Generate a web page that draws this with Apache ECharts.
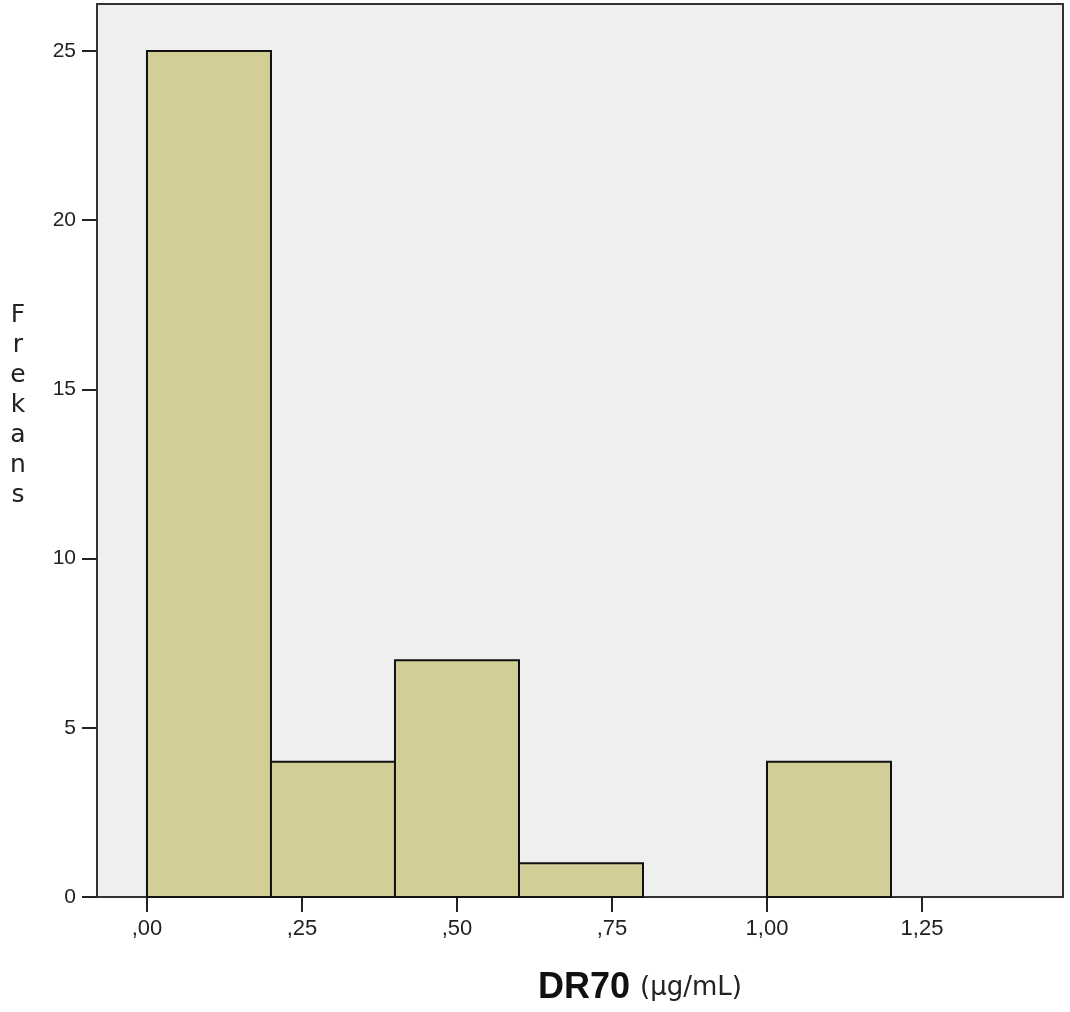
<!DOCTYPE html>
<html>
<head>
<meta charset="utf-8">
<script src="https://cdn.jsdelivr.net/npm/echarts@6/dist/echarts.min.js"></script>
<style>html,body{margin:0;padding:0;background:#fff;}#c{width:1070px;height:1012px;}</style>
</head>
<body>
<div id="c"></div>
<script>
const binStart = [0.0, 0.2, 0.4, 0.6, 1.0];
const binEnd   = [0.2, 0.4, 0.6, 0.8, 1.2];
const counts   = [25, 4, 7, 1, 4];
const xTickValues = [0, 0.25, 0.5, 0.75, 1.0, 1.25];
const xTickLabels = [',00', ',25', ',50', ',75', '1,00', '1,25'];
const yTickValues = [0, 5, 10, 15, 20, 25];

const data = binStart.map((s, i) => [s, binEnd[i], counts[i]]);

const tickFont = 'Liberation Sans';

const chart = echarts.init(document.getElementById('c'));
chart.setOption({
  animation: false,
  grid: {
    left: 97, right: 7, top: 4, bottom: 115,
    outerBoundsMode: 'none', containLabel: false,
    show: true, backgroundColor: '#efefef', borderColor: '#333', borderWidth: 2
  },
  xAxis: {
    type: 'value', min: -0.0806, max: 1.4774,
    splitLine: { show: false },
    axisLine: { show: true, onZero: false, lineStyle: { color: '#333', width: 2 } },
    axisTick: { show: true, customValues: xTickValues, length: 15, lineStyle: { color: '#222', width: 2 } },
    axisLabel: {
      customValues: xTickValues, margin: 21,
      formatter: v => { const i = xTickValues.findIndex(t => Math.abs(t - v) < 1e-6); return i >= 0 ? xTickLabels[i] : ''; },
      color: '#222', fontFamily: tickFont, fontSize: 22
    },
    name: '{s|}{b|DR70}{g|}{n|(µg/mL)}', nameLocation: 'middle', nameGap: 73,
    nameTextStyle: {
      rich: {
        s: { width: 120 },
        g: { width: 10 },
        b: { fontFamily: 'Liberation Sans', fontWeight: 'bold', fontSize: 36, color: '#111' },
        n: { fontFamily: 'DejaVu Sans', fontSize: 26, color: '#222' }
      }
    }
  },
  yAxis: {
    type: 'value', min: 0, max: 26.39,
    splitLine: { show: false },
    axisLine: { show: true, onZero: false, lineStyle: { color: '#333', width: 2 } },
    axisTick: { show: true, customValues: yTickValues, length: 15, lineStyle: { color: '#222', width: 2 } },
    axisLabel: { customValues: yTickValues, margin: 21, color: '#222', fontFamily: tickFont, fontSize: 21 },
    name: 'F\nr\ne\nk\na\nn\ns\n \n \n ', nameLocation: 'middle', nameRotate: 0, nameGap: 79,
    nameTextStyle: { align: 'center', verticalAlign: 'middle', fontFamily: 'DejaVu Sans', fontSize: 25, lineHeight: 30, color: '#222' }
  },
  series: [{
    type: 'custom',
    data: data,
    encode: { x: [0, 1], y: 2 },
    renderItem: function (params, api) {
      const p0 = api.coord([api.value(0), api.value(2)]);
      const p1 = api.coord([api.value(1), 0]);
      return {
        type: 'rect',
        shape: { x: p0[0], y: p0[1], width: p1[0] - p0[0], height: p1[1] - p0[1] },
        style: { fill: '#d3ce97', stroke: '#111', lineWidth: 2 }
      };
    }
  }]
});
</script>
</body>
</html>
